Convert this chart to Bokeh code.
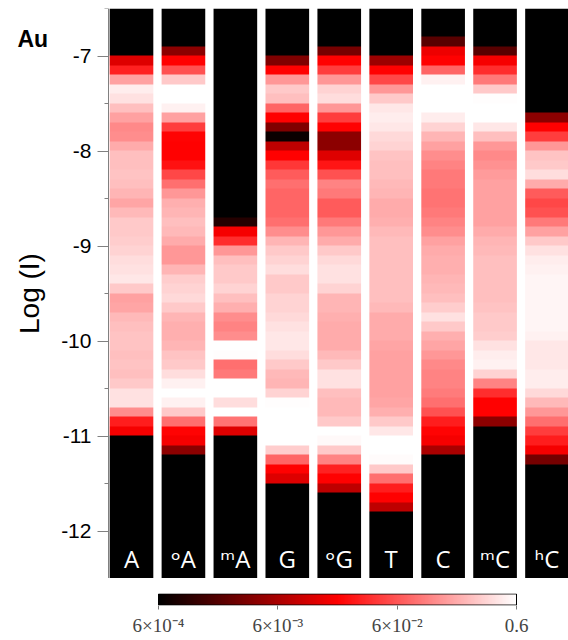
import numpy as np
from bokeh.plotting import figure
from bokeh.models import ColumnDataSource, LogColorMapper, FixedTicker, Label
from bokeh.layouts import column
from bokeh.embed import file_html
from bokeh.resources import INLINE
from bokeh.core.properties import value

# ---------------- data ----------------
labels = ["A", "ᵒA", "ᵐA", "G", "ᵒG", "T", "C", "ᵐC", "ʰC"]
log_min, log_max = -12.5, -6.5          # Log(I) range of the histograms (bins of 0.1, listed top -> bottom)

A = [0.0005, 0.0005, 0.0005, 0.0005, 0.0005, 0.012, 0.03, 0.166, 0.46, 0.4,
     0.249, 0.166, 0.12, 0.127, 0.19, 0.249, 0.249, 0.265, 0.249, 0.217,
     0.178, 0.23, 0.285, 0.285, 0.3, 0.326, 0.373, 0.4, 0.428, 0.285,
     0.166, 0.178, 0.23, 0.249, 0.265, 0.265, 0.249, 0.265, 0.249, 0.285,
     0.4, 0.4, 0.127, 0.028, 0.017, 0.0005, 0.0005, 0.0005, 0.0005, 0.0005,
     0.0005, 0.0005, 0.0005, 0.0005, 0.0005, 0.0005, 0.0005, 0.0005, 0.0005, 0.0005]
oA = [0.0005, 0.0005, 0.0005, 0.0005, 0.004, 0.019, 0.056, 0.285, 0.6, 0.6,
      0.49, 0.166, 0.043, 0.02, 0.019, 0.019, 0.024, 0.05, 0.085, 0.145,
      0.2, 0.217, 0.249, 0.23, 0.19, 0.145, 0.145, 0.217, 0.3, 0.326,
      0.35, 0.285, 0.217, 0.2, 0.2, 0.217, 0.265, 0.285, 0.373, 0.49,
      0.6, 0.49, 0.285, 0.085, 0.02, 0.017, 0.004, 0.0005, 0.0005, 0.0005,
      0.0005, 0.0005, 0.0005, 0.0005, 0.0005, 0.0005, 0.0005, 0.0005, 0.0005, 0.0005]
mA = [0.0005, 0.0005, 0.0005, 0.0005, 0.0005, 0.0005, 0.0005, 0.0005, 0.0005, 0.0005,
      0.0005, 0.0005, 0.0005, 0.0005, 0.0005, 0.0005, 0.0005, 0.0005, 0.0005, 0.0005,
      0.0005, 0.0005, 0.001, 0.017, 0.035, 0.145, 0.249, 0.285, 0.285, 0.326,
      0.249, 0.2, 0.127, 0.11, 0.127, 0.6, 0.58, 0.085, 0.096, 0.6,
      0.6, 0.373, 0.6, 0.09, 0.012, 0.0005, 0.0005, 0.0005, 0.0005, 0.0005,
      0.0005, 0.0005, 0.0005, 0.0005, 0.0005, 0.0005, 0.0005, 0.0005, 0.0005, 0.0005]
G = [0.0005, 0.0005, 0.0005, 0.0005, 0.0005, 0.0034, 0.019, 0.145, 0.285, 0.249,
     0.075, 0.019, 0.0034, 0.0007, 0.008, 0.019, 0.04, 0.065, 0.085, 0.075,
     0.075, 0.075, 0.085, 0.127, 0.217, 0.285, 0.326, 0.373, 0.285, 0.285,
     0.326, 0.326, 0.35, 0.4, 0.428, 0.428, 0.373, 0.285, 0.23, 0.217,
     0.326, 0.58, 0.6, 0.6, 0.6, 0.6, 0.3, 0.075, 0.019, 0.012,
     0.0005, 0.0005, 0.0005, 0.0005, 0.0005, 0.0005, 0.0005, 0.0005, 0.0005, 0.0005]
oG = [0.0005, 0.0005, 0.0005, 0.0005, 0.003, 0.019, 0.043, 0.145, 0.326, 0.373,
      0.145, 0.043, 0.019, 0.004, 0.004, 0.012, 0.025, 0.056, 0.11, 0.096,
      0.065, 0.065, 0.096, 0.145, 0.19, 0.285, 0.35, 0.4, 0.4, 0.326,
      0.217, 0.217, 0.2, 0.19, 0.19, 0.19, 0.23, 0.285, 0.4, 0.4,
      0.249, 0.23, 0.23, 0.285, 0.6, 0.55, 0.285, 0.11, 0.03, 0.019,
      0.008, 0.0005, 0.0005, 0.0005, 0.0005, 0.0005, 0.0005, 0.0005, 0.0005, 0.0005]
T = [0.0005, 0.0005, 0.0005, 0.0005, 0.0005, 0.005, 0.019, 0.05, 0.145, 0.285,
     0.428, 0.46, 0.428, 0.35, 0.326, 0.265, 0.249, 0.249, 0.23, 0.217,
     0.19, 0.19, 0.2, 0.23, 0.249, 0.249, 0.249, 0.249, 0.249, 0.249,
     0.249, 0.23, 0.19, 0.19, 0.19, 0.178, 0.166, 0.166, 0.166, 0.166,
     0.166, 0.178, 0.2, 0.285, 0.428, 0.6, 0.6, 0.56, 0.285, 0.085,
     0.028, 0.019, 0.008, 0.0005, 0.0005, 0.0005, 0.0005, 0.0005, 0.0005, 0.0005]
C = [0.0005, 0.0005, 0.0005, 0.002, 0.015, 0.019, 0.075, 0.49, 0.6, 0.6,
     0.6, 0.46, 0.326, 0.217, 0.166, 0.127, 0.11, 0.096, 0.096, 0.09,
     0.09, 0.096, 0.11, 0.127, 0.166, 0.19, 0.2, 0.2, 0.217, 0.23,
     0.249, 0.3, 0.4, 0.285, 0.2, 0.178, 0.145, 0.12, 0.11, 0.11,
     0.1, 0.085, 0.056, 0.028, 0.02, 0.017, 0.006, 0.0005, 0.0005, 0.0005,
     0.0005, 0.0005, 0.0005, 0.0005, 0.0005, 0.0005, 0.0005, 0.0005, 0.0005, 0.0005]
mC = [0.0005, 0.0005, 0.0005, 0.0005, 0.002, 0.017, 0.035, 0.096, 0.285, 0.58,
      0.6, 0.6, 0.428, 0.249, 0.145, 0.12, 0.135, 0.155, 0.166, 0.166,
      0.166, 0.166, 0.166, 0.19, 0.217, 0.23, 0.249, 0.249, 0.249, 0.249,
      0.249, 0.265, 0.285, 0.285, 0.3, 0.4, 0.46, 0.49, 0.326, 0.11,
      0.035, 0.019, 0.019, 0.004, 0.0005, 0.0005, 0.0005, 0.0005, 0.0005, 0.0005,
      0.0005, 0.0005, 0.0005, 0.0005, 0.0005, 0.0005, 0.0005, 0.0005, 0.0005, 0.0005]
hC = [0.0005, 0.0005, 0.0005, 0.0005, 0.0005, 0.0005, 0.0005, 0.0005, 0.0005, 0.0005,
      0.0005, 0.004, 0.019, 0.043, 0.145, 0.265, 0.285, 0.373, 0.19, 0.065,
      0.05, 0.056, 0.096, 0.166, 0.285, 0.4, 0.46, 0.49, 0.52, 0.52,
      0.52, 0.52, 0.52, 0.52, 0.49, 0.428, 0.428, 0.428, 0.46, 0.46,
      0.35, 0.23, 0.145, 0.085, 0.043, 0.028, 0.017, 0.003, 0.0005, 0.0005,
      0.0005, 0.0005, 0.0005, 0.0005, 0.0005, 0.0005, 0.0005, 0.0005, 0.0005, 0.0005]

y_ticks = [-12, -11, -10, -9, -8, -7]
y_tick_labels = ["-12", "-11", "-10", "-9", "-8", "-7"]
y_minor = [-12.5, -11.5, -10.5, -9.5, -8.5, -7.5, -6.5]
cb_low, cb_high = 6e-4, 0.6
cb_ticks = [6e-4, 6e-3, 6e-2, 0.6]
cb_labels = ["6×10⁻⁴", "6×10⁻³", "6×10⁻²", "0.6"]

# ---------------- palette: black -> red -> white ----------------
palette = []
for k in range(256):
    t = k / 255
    if t <= 0.5:
        palette.append("#%02x0000" % int(round(510 * t)))
    else:
        g = int(round(510 * (t - 0.5)))
        palette.append("#ff%02x%02x" % (g, g))
mapper = LogColorMapper(palette=palette, low=cb_low, high=cb_high)

columns = [A, oA, mA, G, oG, T, C, mC, hC]
n = len(labels)
src = ColumnDataSource(dict(
    image=[np.array(c[::-1], dtype=float).reshape(-1, 1) for c in columns],
    x=[i - 0.42 for i in range(n)],
    y=[log_min] * n,
    dw=[0.84] * n,
    dh=[log_max - log_min] * n,
))

W = 568
AXIS_X = -0.443   # data x where the y axis is drawn
p = figure(width=W, height=578, x_range=(-2.522, 8.414), y_range=(log_min, log_max),
           output_backend="svg", toolbar_location=None,
           min_border_left=0, min_border_right=0, min_border_top=8, min_border_bottom=0,
           x_axis_location=None, outline_line_color=None)
p.grid.visible = False
p.image(image="image", x="x", y="y", dw="dw", dh="dh", source=src, color_mapper=mapper)

p.text(x=list(range(n)), y=[-12.289] * n, text=labels, text_color="white",
       text_font=value("Open Sans, DejaVu Sans"), text_font_size="24px",
       text_align="center", text_baseline="alphabetic")

ax = p.yaxis[0]
ax.fixed_location = AXIS_X
ax.ticker = FixedTicker(ticks=y_ticks, minor_ticks=y_minor)
ax.major_label_overrides = {v: s for v, s in zip(y_ticks, y_tick_labels)}
ax.axis_label = "Log (I)"
ax.axis_label_text_font = "Liberation Sans"
ax.axis_label_text_font_style = "normal"
ax.axis_label_text_font_size = "28px"
ax.axis_label_text_color = "black"
ax.axis_label_standoff = 13
ax.major_label_text_font = "Liberation Sans"
ax.major_label_text_font_size = "21px"
ax.major_label_text_color = "black"
ax.major_label_standoff = 6
ax.axis_line_color = "#808080"
ax.major_tick_line_color = "#808080"
ax.minor_tick_line_color = "#808080"
ax.major_tick_out = 11
ax.major_tick_in = 0
ax.minor_tick_out = 4
ax.minor_tick_in = 0

p.add_layout(Label(x=-2.195, y=-6.826, text="Au", text_font="Liberation Sans",
                   text_font_style="bold", text_font_size="23px",
                   text_baseline="alphabetic", text_color="black"))

# ---------------- colour bar (log scale of the mapper) ----------------
BAR_LEFT, BAR_RIGHT = 158, 516          # pixel extent of the bar inside the figure
per_px = np.log10(cb_high / cb_low) / (BAR_RIGHT - BAR_LEFT)
cb_range = (cb_low / 10 ** (BAR_LEFT * per_px), cb_high * 10 ** ((W - BAR_RIGHT) * per_px))
cb = figure(width=W, height=60, x_axis_type="log", x_range=cb_range, y_range=(-0.04, 1.04),
            output_backend="svg", toolbar_location=None,
            min_border_left=0, min_border_right=0, min_border_top=15, min_border_bottom=0,
            y_axis_location=None, outline_line_color=None)
cb.grid.visible = False
grad = np.logspace(np.log10(cb_low), np.log10(cb_high), 256).reshape(1, -1)
cb.image(image=[grad], x=cb_low, y=0, dw=cb_high - cb_low, dh=1, color_mapper=mapper)
cb.quad(left=[cb_low], right=[cb_high], bottom=[0], top=[1], fill_color=None,
        line_color="black", line_width=1)
cax = cb.xaxis[0]
cax.ticker = FixedTicker(ticks=cb_ticks, minor_ticks=[])
cax.major_label_overrides = {v: s for v, s in zip(cb_ticks, cb_labels)}
cax.major_label_text_font = "Liberation Serif"
cax.major_label_text_font_size = "19px"
cax.major_label_standoff = 5
cax.axis_line_color = None
cax.major_tick_line_color = "#777777"
cax.major_tick_out = 4
cax.major_tick_in = 0
cax.minor_tick_line_color = None

layout = column(p, cb, spacing=0)
open("out.html", "w").write(file_html(layout, INLINE))
